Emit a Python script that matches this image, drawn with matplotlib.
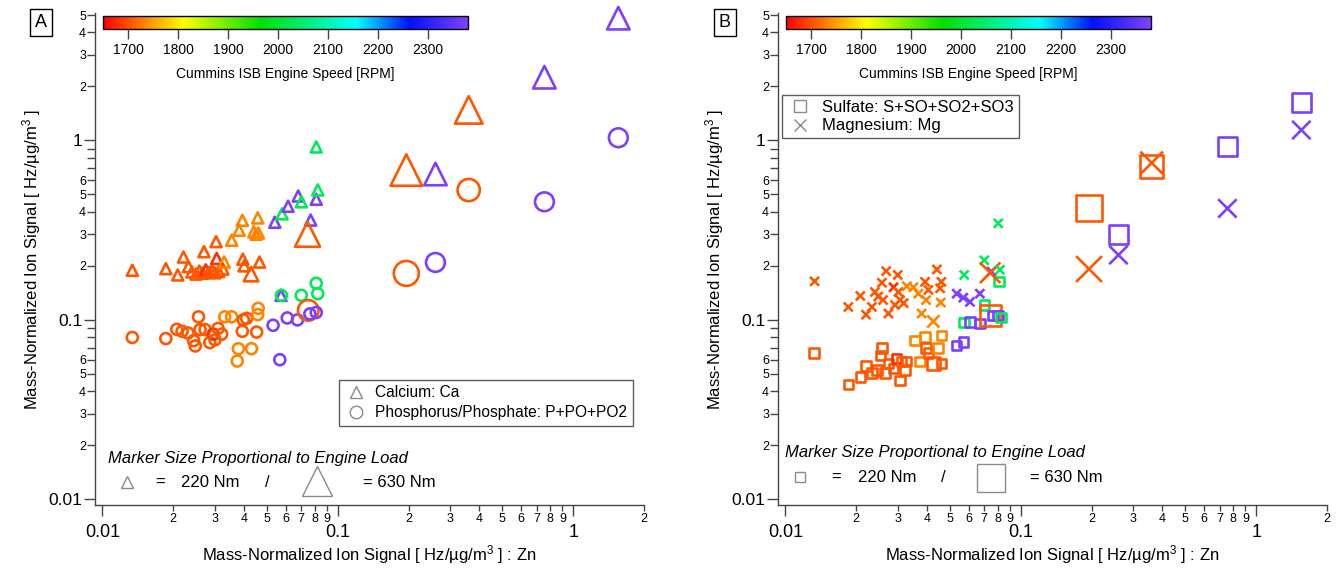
import numpy as np
import matplotlib.pyplot as plt
from matplotlib.colors import LinearSegmentedColormap, Normalize
from matplotlib.cm import ScalarMappable
from matplotlib.lines import Line2D
from matplotlib.ticker import LogLocator, FuncFormatter, FixedLocator

plt.rcParams['font.family'] = ['Liberation Sans', 'DejaVu Sans']
plt.rcParams['mathtext.fontset'] = 'custom'
plt.rcParams['mathtext.rm'] = 'Liberation Sans'
plt.rcParams['mathtext.default'] = 'regular'

# engine speed shorthands (RPM)
OR, R, O, G, P = 1705, 1680, 1735, 2030, 2375

# ---- panel A : Calcium (triangles) ----
ca_zn = [0.0134, 0.0186, 0.0209, 0.0221, 0.0232, 0.0240, 0.0250, 0.0258, 0.0266, 0.0275,
         0.0283, 0.0292, 0.0300, 0.0312, 0.0325, 0.0270, 0.0304, 0.0306, 0.0329, 0.0354,
         0.0381, 0.0393, 0.0395, 0.0400, 0.0428, 0.0440, 0.0457, 0.0460, 0.0450, 0.0465,
         0.0540, 0.0580, 0.0615, 0.0679, 0.0700, 0.0767, 0.0744, 0.0810, 0.0822, 0.0810,
         0.0574, 0.1955, 0.260, 0.360, 0.755, 1.556]
ca_sig = [0.189, 0.193, 0.178, 0.224, 0.198, 0.185, 0.180, 0.187, 0.182, 0.190,
          0.184, 0.188, 0.183, 0.186, 0.192, 0.240, 0.273, 0.220, 0.210, 0.278,
          0.316, 0.359, 0.218, 0.200, 0.180, 0.310, 0.370, 0.305, 0.300, 0.210,
          0.350, 0.390, 0.430, 0.490, 0.455, 0.360, 0.300, 0.470, 0.530, 0.920,
          0.137, 0.684, 0.650, 1.480, 2.250, 4.800]
ca_rpm = [OR, OR, OR, OR, OR, OR, OR, OR, OR, R,
          OR, OR, OR, OR, OR, OR, OR, R, O, O,
          O, O, OR, OR, OR, O, O, O, O, OR,
          P, G, P, P, G, P, OR, P, G, G,
          P, OR, P, OR, P, P]
ca_load = [220] * 24 + [290] + [220] * 11 + [500] + [220] * 4 + [630, 450, 550, 450, 450]

# ---- panel A : Phosphorus/Phosphate (circles) ----
p_zn = [0.0134, 0.0186, 0.0207, 0.0218, 0.0231, 0.0244, 0.0248, 0.0256, 0.0260, 0.0273,
        0.0286, 0.0296, 0.0301, 0.0310, 0.0321, 0.0331, 0.0354, 0.0378, 0.0374, 0.0393,
        0.0397, 0.0410, 0.0430, 0.0452, 0.0459, 0.0457, 0.0531, 0.0576, 0.0567, 0.0610,
        0.0674, 0.0700, 0.0749, 0.0761, 0.0810, 0.0810, 0.0822, 0.1955, 0.260, 0.360,
        0.755, 1.556]
p_sig = [0.0798, 0.0787, 0.0886, 0.0864, 0.0845, 0.0766, 0.0716, 0.104, 0.0883, 0.0883,
         0.0747, 0.0833, 0.0774, 0.0896, 0.0833, 0.104, 0.104, 0.0691, 0.0590, 0.0864,
         0.100, 0.102, 0.0691, 0.0855, 0.116, 0.107, 0.0933, 0.137, 0.0600, 0.1025,
         0.100, 0.137, 0.113, 0.108, 0.110, 0.160, 0.140, 0.1815, 0.209, 0.529,
         0.455, 1.035]
p_rpm = [OR, OR, OR, OR, OR, OR, OR, OR, OR, OR,
         OR, R, OR, OR, OR, O, O, O, O, OR,
         OR, OR, O, OR, O, O, P, G, P, P,
         P, G, OR, P, P, G, G, OR, P, OR,
         P, P]
p_load = [220] * 32 + [500] + [220] * 4 + [630, 450, 550, 450, 450]

# ---- panel B : Sulfate (squares) ----
so_zn = [0.0132, 0.0185, 0.0208, 0.0220, 0.0233, 0.0245, 0.0253, 0.0257, 0.0265, 0.0274,
         0.0288, 0.0297, 0.0307, 0.0312, 0.0322, 0.0327, 0.0356, 0.0373, 0.0392, 0.0396,
         0.0405, 0.0425, 0.0446, 0.0460, 0.0460, 0.0534, 0.0570, 0.0575, 0.0608, 0.0670,
         0.0700, 0.0741, 0.0762, 0.0802, 0.0808, 0.0825, 0.195, 0.260, 0.360, 0.755, 1.556]
so_sig = [0.0655, 0.0437, 0.0481, 0.0553, 0.0507, 0.0526, 0.0633, 0.0699, 0.0507, 0.0570,
          0.0537, 0.0608, 0.0459, 0.0587, 0.0526, 0.0587, 0.0770, 0.0587, 0.0805, 0.0699,
          0.0654, 0.0570, 0.0699, 0.0818, 0.0570, 0.0720, 0.0752, 0.0967, 0.0975, 0.0955,
          0.121, 0.106, 0.106, 0.106, 0.164, 0.103, 0.420, 0.300, 0.713, 0.922, 1.620]
so_rpm = [OR, OR, OR, OR, OR, OR, OR, OR, OR, OR,
          OR, R, OR, OR, OR, OR, O, O, O, OR,
          OR, OR, O, O, OR, P, P, G, P, P,
          G, OR, P, P, G, G, OR, P, OR, P, P]
so_load = [220] * 21 + [300] + [220] * 9 + [500] + [220] * 4 + [630, 450, 550, 450, 450]

# ---- panel B : Magnesium (crosses) ----
mg_zn = [0.0133, 0.0185, 0.0208, 0.0220, 0.0233, 0.0240, 0.0248, 0.0257, 0.0268, 0.0260,
         0.0274, 0.0288, 0.0292, 0.0300, 0.0302, 0.0307, 0.0318, 0.0328, 0.0350, 0.0367,
         0.0379, 0.0392, 0.0396, 0.0405, 0.0425, 0.0440, 0.0454, 0.0457, 0.0460, 0.0534,
         0.0570, 0.0575, 0.0608, 0.0670, 0.0700, 0.0750, 0.0741, 0.0802, 0.0815, 0.195,
         0.260, 0.360, 0.755, 1.556]
mg_sig = [0.164, 0.118, 0.136, 0.107, 0.118, 0.143, 0.135, 0.161, 0.187, 0.129,
          0.1085, 0.152, 0.121, 0.178, 0.143, 0.129, 0.124, 0.154, 0.152, 0.140,
          0.1085, 0.163, 0.129, 0.147, 0.098, 0.191, 0.150, 0.125, 0.163, 0.140,
          0.133, 0.178, 0.126, 0.140, 0.215, 0.186, 0.183, 0.345, 0.190, 0.192,
          0.230, 0.750, 0.418, 1.143]
mg_rpm = [OR, OR, OR, OR, OR, OR, OR, OR, OR, OR,
          OR, R, OR, OR, OR, OR, OR, O, O, O,
          O, OR, O, OR, O, OR, OR, O, OR, P,
          P, G, P, P, G, P, OR, G, G, OR,
          P, OR, P, P]
mg_load = [220] * 24 + [300] + [220] * 11 + [500] + [220] * 2 + [630, 450, 550, 450, 450]

rpm_ticks = [1700, 1800, 1900, 2000, 2100, 2200, 2300]
rpm_range = (1650, 2380)

cmap = LinearSegmentedColormap.from_list(
    'igor_rainbow',
    [(0.0, '#ff0000'), (0.219, '#ffff00'), (0.43, '#00e000'),
     (0.696, '#00ffff'), (0.841, '#0010ff'), (1.0, '#8040ff')])
norm = Normalize(*rpm_range)

W, H = 1340, 575
fig = plt.figure(figsize=(W / 100, H / 100), dpi=100)


def px_to_pt(px):
    return px * 0.72


def size_pts(load, base, slope):
    return [px_to_pt(base + (l - 220) * slope) ** 2 for l in load]


def minor_fmt(maxdigit):
    def f(v, pos):
        d = int(round(v / 10 ** np.floor(np.log10(v) + 1e-9)))
        return str(d) if d <= maxdigit else ''
    return FuncFormatter(f)


def style_axes(ax):
    ax.set_xscale('log')
    ax.set_yscale('log')
    ax.set_xlim(0.0093, 2.0)
    ax.set_ylim(0.0093, 5.13)
    for s in ('top', 'right'):
        ax.spines[s].set_visible(False)
    for s in ('left', 'bottom'):
        ax.spines[s].set_color('#444444')
        ax.spines[s].set_linewidth(1.0)
    ax.xaxis.set_major_locator(FixedLocator([0.01, 0.1, 1]))
    ax.yaxis.set_major_locator(FixedLocator([0.01, 0.1, 1]))
    ax.xaxis.set_minor_locator(LogLocator(base=10, subs=np.arange(2, 10), numticks=20))
    ax.yaxis.set_minor_locator(LogLocator(base=10, subs=np.arange(2, 10), numticks=20))
    gfmt = FuncFormatter(lambda v, p: f'{v:g}')
    ax.xaxis.set_major_formatter(gfmt)
    ax.yaxis.set_major_formatter(gfmt)
    ax.xaxis.set_minor_formatter(minor_fmt(9))
    ax.yaxis.set_minor_formatter(minor_fmt(6))
    ax.tick_params(axis='x', which='major', length=8, width=1, color='#444444',
                   labelsize=13, pad=6)
    ax.tick_params(axis='x', which='minor', length=4.5, width=1, color='#444444',
                   labelsize=9, pad=1.5)
    ax.tick_params(axis='y', which='major', length=8, width=1, color='#444444',
                   labelsize=12.5, pad=1)
    ax.tick_params(axis='y', which='minor', length=5.5, width=1, color='#444444',
                   labelsize=9, pad=1)
    ax.set_xlabel('Mass-Normalized Ion Signal [ Hz/µg/m$^{3}$ ] : Zn', fontsize=12, labelpad=1)
    ax.set_ylabel('Mass-Normalized Ion Signal [ Hz/µg/m$^{3}$ ]', fontsize=12, labelpad=4)


def add_colorbar(x0):
    cax = fig.add_axes([x0 / W, 1 - 29 / H, 365 / W, 13 / H])
    cb = fig.colorbar(ScalarMappable(norm=norm, cmap=cmap), cax=cax, orientation='horizontal')
    cb.set_ticks(rpm_ticks)
    cb.outline.set_linewidth(1)
    cax.tick_params(length=7, width=1, labelsize=10, pad=3, color='#444444')
    cax.set_xlabel('Cummins ISB Engine Speed [RPM]', fontsize=10, labelpad=7)


def scatter_open(ax, x, y, rpm, load, marker, base, slope, lw=1.9):
    cols = cmap(norm(np.array(rpm)))
    s = size_pts(load, base, slope)
    if marker == 'x':
        ax.scatter(x, y, s=s, marker='x', c=cols, linewidths=lw, zorder=3, clip_on=False)
    else:
        ax.scatter(x, y, s=s, marker=marker, facecolors='none', edgecolors=cols,
                   linewidths=lw, zorder=3, clip_on=False)


# ---------------- Panel A ----------------
axA = fig.add_axes([95 / W, 1 - 505 / H, 549 / W, 492 / H])
style_axes(axA)
scatter_open(axA, ca_zn, ca_sig, ca_rpm, ca_load, '^', 11, 0.05)
scatter_open(axA, p_zn, p_sig, p_rpm, p_load, 'o', 11, 0.034)

gray = '#8a8a8a'
hA = [Line2D([], [], ls='none', marker='^', ms=9, mfc='none', mec=gray, mew=1),
      Line2D([], [], ls='none', marker='o', ms=9, mfc='none', mec=gray, mew=1)]
legA = axA.legend(hA, ['Calcium: Ca', 'Phosphorus/Phosphate: P+PO+PO2'],
                  loc='upper left', bbox_to_anchor=(0.444, 0.254), borderaxespad=0,
                  fontsize=11.2, frameon=True, fancybox=False, handletextpad=0.5,
                  labelspacing=0.3, borderpad=0.35, handlelength=1.5)
legA.get_frame().set_edgecolor('#333333')
legA.get_frame().set_linewidth(1)

axA.text(0.0237, 0.0935, 'Marker Size Proportional to Engine Load', transform=axA.transAxes,
         fontsize=12, style='italic', va='center', ha='left')
axA.plot([0.0583], [0.0467], transform=axA.transAxes, marker='^', ms=8, mfc='none',
         mec=gray, mew=1, ls='none')
axA.text(0.118, 0.0467, '=', transform=axA.transAxes, fontsize=12, va='center', ha='center')
axA.text(0.157, 0.0467, '220 Nm', transform=axA.transAxes, fontsize=12, va='center', ha='left')
axA.text(0.313, 0.0467, '/', transform=axA.transAxes, fontsize=12, va='center', ha='center')
axA.plot([0.404], [0.0487], transform=axA.transAxes, marker='^', ms=21, mfc='none',
         mec=gray, mew=1, ls='none')
axA.text(0.488, 0.0467, '= 630 Nm', transform=axA.transAxes, fontsize=12, va='center', ha='left')
add_colorbar(103)
fig.text(41 / W, 1 - 22.5 / H, 'A', fontsize=13, ha='center', va='center',
         bbox=dict(boxstyle='square,pad=0.3', fc='white', ec='black', lw=1))

# ---------------- Panel B ----------------
axB = fig.add_axes([778 / W, 1 - 505 / H, 549 / W, 492 / H])
style_axes(axB)
scatter_open(axB, so_zn, so_sig, so_rpm, so_load, 's', 9.5, 0.041)
scatter_open(axB, mg_zn, mg_sig, mg_rpm, mg_load, 'x', 9, 0.041)

hB = [Line2D([], [], ls='none', marker='s', ms=8, mfc='none', mec=gray, mew=1),
      Line2D([], [], ls='none', marker='x', ms=8, mfc='none', mec=gray, mew=1)]
legB = axB.legend(hB, ['Sulfate: S+SO+SO2+SO3', 'Magnesium: Mg'],
                  loc='upper left', bbox_to_anchor=(0.0073, 0.833), borderaxespad=0,
                  fontsize=12, frameon=True, fancybox=False, handletextpad=0.6,
                  labelspacing=0.2, borderpad=0.3, handlelength=1.5)
legB.get_frame().set_edgecolor('#333333')
legB.get_frame().set_linewidth(1)

axB.text(0.0128, 0.1057, 'Marker Size Proportional to Engine Load', transform=axB.transAxes,
         fontsize=12, style='italic', va='center', ha='left')
axB.plot([0.040], [0.0569], transform=axB.transAxes, marker='s', ms=7.5, mfc='none',
         mec=gray, mew=1, ls='none')
axB.text(0.1056, 0.0569, '=', transform=axB.transAxes, fontsize=12, va='center', ha='center')
axB.text(0.1457, 0.0569, '220 Nm', transform=axB.transAxes, fontsize=12, va='center', ha='left')
axB.text(0.3005, 0.0569, '/', transform=axB.transAxes, fontsize=12, va='center', ha='center')
axB.plot([0.388], [0.0549], transform=axB.transAxes, marker='s', ms=20, mfc='none',
         mec=gray, mew=1, ls='none')
axB.text(0.459, 0.0569, '= 630 Nm', transform=axB.transAxes, fontsize=12, va='center', ha='left')
add_colorbar(786)
fig.text(725 / W, 1 - 22.5 / H, 'B', fontsize=13, ha='center', va='center',
         bbox=dict(boxstyle='square,pad=0.3', fc='white', ec='black', lw=1))

fig.savefig('out.png', dpi=100)
